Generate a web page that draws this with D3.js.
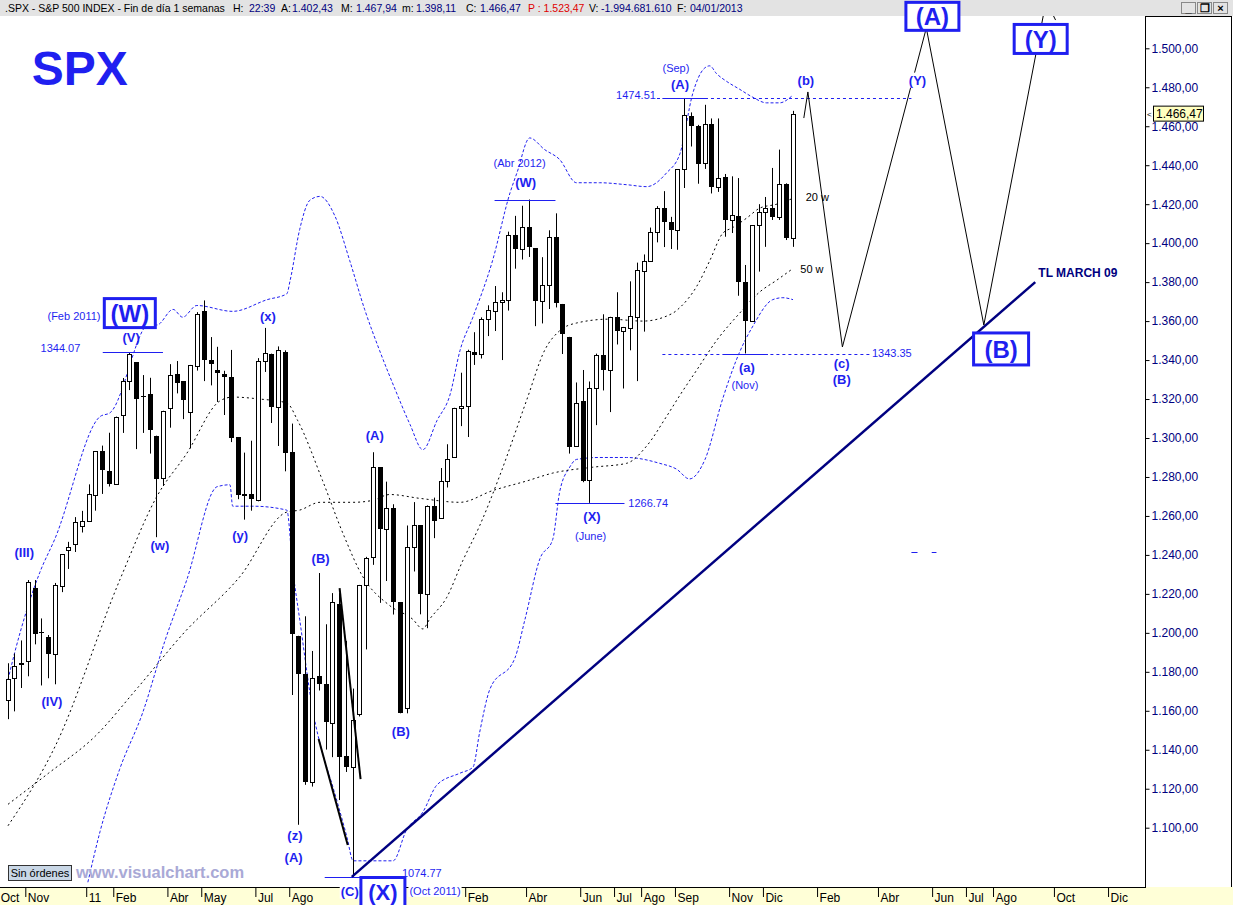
<!DOCTYPE html>
<html><head><meta charset="utf-8">
<script src="https://cdn.jsdelivr.net/npm/d3@7"></script>
<style>
body{margin:0;background:#fff;}
svg{display:block;font-family:"Liberation Sans",Arial,sans-serif;}
</style>
</head><body>
<svg id="c" width="1233" height="905"></svg>
<script>
// ---------- DATA (weekly S&P 500 candles, week index 0 = week of 11 Oct 2010) ----------
const weekStart = ["2010-10-11","2010-10-18","2010-10-25","2010-11-01","2010-11-08","2010-11-15","2010-11-22","2010-11-29","2010-12-06","2010-12-13","2010-12-20","2010-12-27",
"2011-01-03","2011-01-10","2011-01-17","2011-01-24","2011-01-31","2011-02-07","2011-02-14","2011-02-22","2011-02-28","2011-03-07","2011-03-14","2011-03-21","2011-03-28","2011-04-04","2011-04-11","2011-04-18","2011-04-25","2011-05-02","2011-05-09","2011-05-16","2011-05-23","2011-05-31","2011-06-06","2011-06-13","2011-06-20","2011-06-27","2011-07-05","2011-07-11","2011-07-18","2011-07-25","2011-08-01","2011-08-08","2011-08-15","2011-08-22","2011-08-29","2011-09-05","2011-09-12","2011-09-19","2011-09-26","2011-10-03","2011-10-10","2011-10-17","2011-10-24","2011-10-31","2011-11-07","2011-11-14","2011-11-21","2011-11-28","2011-12-05","2011-12-12","2011-12-19","2011-12-27",
"2012-01-03","2012-01-09","2012-01-17","2012-01-23","2012-01-30","2012-02-06","2012-02-13","2012-02-21","2012-02-27","2012-03-05","2012-03-12","2012-03-19","2012-03-26","2012-04-02","2012-04-09","2012-04-16","2012-04-23","2012-04-30","2012-05-07","2012-05-14","2012-05-21","2012-05-29","2012-06-04","2012-06-11","2012-06-18","2012-06-25","2012-07-02","2012-07-09","2012-07-16","2012-07-23","2012-07-30","2012-08-06","2012-08-13","2012-08-20","2012-08-27","2012-09-04","2012-09-10","2012-09-17","2012-09-24","2012-10-01","2012-10-08","2012-10-15","2012-10-22","2012-10-29","2012-11-05","2012-11-12","2012-11-19","2012-11-26","2012-12-03","2012-12-10","2012-12-17","2012-12-24","2012-12-31"];

const open = [1165.3,1176.8,1184.7,1185.7,1223.2,1200.4,1198.1,1189.4,1223.9,1242.5,1245.8,1254.7,
1257.6,1271.0,1293.2,1283.3,1276.5,1311.9,1329.2,1338.9,1321.6,1322.7,1301.2,1279.3,1315.5,1332.7,1329.0,1313.4,1337.1,1365.2,1340.2,1334.8,1333.1,1331.1,1300.3,1271.3,1271.5,1268.4,1339.6,1343.3,1315.9,1344.3,1292.6,1198.5,1178.9,1123.5,1177.9,1173.9,1153.5,1214.9,1136.9,1131.2,1158.2,1224.5,1238.7,1285.0,1253.2,1263.9,1215.6,1161.4,1244.3,1255.1,1219.7,1265.0,
1258.9,1277.8,1290.0,1315.3,1316.2,1344.3,1343.0,1361.2,1365.2,1369.6,1370.8,1404.2,1397.1,1408.5,1397.5,1370.3,1378.5,1403.3,1368.8,1351.9,1295.7,1318.9,1278.3,1325.7,1342.4,1335.0,1362.3,1354.7,1356.5,1362.3,1385.8,1391.0,1405.9,1418.1,1411.1,1406.5,1438.0,1465.4,1460.3,1440.9,1460.9,1428.8,1433.7,1412.0,1414.0,1379.9,1359.9,1409.2,1416.2,1418.1,1413.5,1430.2,1402.4];
const high = [1184.4,1189.4,1196.1,1227.1,1227.1,1207.4,1198.9,1225.6,1240.4,1246.7,1259.4,1262.6,
1276.2,1293.2,1296.1,1302.7,1311.0,1330.8,1344.1,1338.9,1332.3,1330.9,1301.2,1314.0,1337.9,1339.5,1329.0,1337.5,1364.6,1370.6,1351.8,1346.8,1334.5,1345.2,1300.3,1292.5,1298.6,1341.0,1356.5,1343.3,1347.0,1345.0,1307.4,1198.5,1208.5,1190.7,1230.7,1204.4,1220.4,1220.4,1195.9,1171.4,1224.6,1239.0,1292.7,1285.0,1277.6,1266.0,1215.6,1255.1,1267.1,1255.2,1265.4,1269.4,
1284.6,1296.8,1315.5,1333.5,1345.3,1354.3,1361.9,1368.1,1378.0,1374.8,1405.9,1414.0,1419.2,1422.4,1397.5,1392.8,1406.6,1415.3,1368.8,1351.9,1328.5,1334.9,1329.0,1343.3,1363.5,1362.2,1374.8,1357.0,1380.4,1390.0,1394.2,1408.0,1419.0,1426.7,1413.5,1438.0,1474.5,1467.1,1460.7,1471.0,1464.0,1464.0,1435.5,1434.3,1433.4,1388.8,1409.2,1420.0,1423.7,1438.6,1448.0,1430.7,1467.9];
const low = [1155.7,1159.7,1171.7,1177.7,1194.1,1173.0,1176.7,1173.6,1220.9,1232.8,1241.5,1251.5,
1257.6,1262.7,1271.3,1275.1,1276.5,1302.6,1324.6,1294.3,1302.6,1292.0,1249.1,1275.4,1305.3,1322.9,1309.7,1294.7,1334.6,1329.2,1327.0,1318.5,1311.8,1297.9,1268.6,1258.1,1262.7,1267.5,1333.9,1307.7,1295.9,1282.9,1168.1,1101.5,1122.0,1121.1,1170.4,1140.1,1136.2,1114.2,1128.6,1074.8,1157.1,1191.5,1234.9,1215.4,1226.6,1209.4,1158.7,1158.7,1231.5,1209.5,1202.4,1248.6,
1258.9,1274.6,1290.0,1306.1,1300.5,1337.5,1340.8,1352.3,1354.9,1340.0,1365.4,1386.9,1391.6,1392.9,1357.4,1358.8,1366.2,1367.0,1343.1,1292.0,1295.7,1277.3,1266.7,1306.6,1324.4,1313.3,1348.0,1325.4,1345.0,1329.2,1354.6,1390.4,1400.4,1398.0,1397.0,1396.6,1428.3,1449.6,1430.5,1438.1,1425.5,1426.3,1403.3,1405.2,1373.0,1343.4,1359.9,1385.4,1398.1,1411.9,1411.9,1401.6,1398.1];
const close = [1176.2,1183.1,1183.3,1225.9,1199.2,1199.7,1189.4,1224.7,1240.4,1243.9,1256.8,1257.6,
1271.5,1293.2,1283.4,1276.3,1310.9,1329.2,1343.0,1319.9,1321.2,1304.3,1279.2,1313.8,1332.4,1328.2,1319.7,1337.4,1363.6,1340.2,1337.8,1333.3,1331.1,1300.2,1271.0,1271.5,1268.5,1339.7,1343.8,1316.1,1345.0,1292.3,1199.4,1178.8,1123.5,1176.8,1174.0,1154.2,1216.0,1136.4,1131.4,1155.5,1224.6,1238.3,1285.1,1253.2,1263.9,1215.7,1158.7,1244.3,1255.2,1219.7,1265.3,1257.6,
1277.8,1289.1,1315.4,1316.3,1344.9,1342.6,1361.2,1365.7,1369.6,1370.9,1404.2,1397.1,1408.5,1398.1,1370.3,1378.5,1403.4,1369.1,1353.4,1295.2,1317.8,1278.0,1325.7,1342.8,1335.0,1362.2,1354.7,1356.8,1362.7,1386.0,1391.0,1405.9,1418.2,1411.1,1406.6,1437.9,1465.8,1460.2,1440.7,1460.9,1428.6,1433.2,1411.9,1414.2,1379.9,1359.9,1409.2,1416.2,1418.1,1413.6,1430.2,1402.4,1466.5];

// moving averages / bands: [week index, price]
const ma20 = [[0,1101],[7,1142],[16.5,1227],[22,1270],[26.4,1292],[31.3,1319],[33.2,1321],[37.2,1320],[41.2,1318],[42.8,1309],[46.5,1278],[49.5,1251],[52.4,1229],[56.4,1214],[59.8,1207],[61.3,1202],[62.3,1207],[64.8,1218],[67.2,1237],[69.7,1255],[72.7,1281],[76.7,1320],[79.3,1345],[81.5,1355],[84,1359],[88.9,1361],[93.8,1360],[98.2,1364],[99.3,1367],[101.8,1378],[103.7,1391],[105.6,1405],[107.1,1408],[109.2,1413],[111.1,1418],[113.6,1420],[116,1423]];
const ma50 = [[0,1112],[6,1128],[12.9,1147],[19.2,1172],[26,1200],[34.3,1229],[41.2,1262],[43.1,1263],[46.1,1267],[51,1267],[53.9,1268],[56.4,1271],[60.9,1269],[66.8,1267],[71.6,1273],[76.7,1278],[80.5,1282],[86.4,1285],[91.4,1287],[94.4,1296],[97.3,1311],[99.3,1322],[101.8,1335],[104.7,1350],[108.1,1364],[111.1,1375],[113.6,1381],[116,1387]];
const bandUp = [[0,1176],[1,1190],[2.8,1212],[4.7,1231],[6.9,1248],[13.6,1311],[15.1,1313],[21,1359],[22,1358],[24.4,1366],[25.8,1362],[27.9,1368],[33.2,1365],[38.3,1371],[41.2,1374],[41.7,1381],[43.1,1407],[44.6,1422],[46.1,1424],[48.3,1414],[50.5,1391],[52.7,1366],[54.9,1345],[57.2,1325],[59.4,1307],[61.3,1294],[63.4,1309],[65.3,1322],[66.8,1345],[68.7,1362],[71.6,1391],[74.2,1426],[75.2,1436],[77.1,1454],[79.3,1448],[81.5,1443],[84,1431],[87.4,1431],[91.4,1430],[94.4,1429],[97.3,1436],[99.3,1446],[101.2,1477],[102.7,1489],[103.7,1491],[104.7,1487],[106.2,1483],[108.1,1479],[110,1475],[112.1,1472],[114,1472],[116,1476]];
const bandLow = [[11.8,1072],[13.6,1098],[16.5,1130],[19.9,1159],[23.2,1196],[26.4,1227],[30.9,1275],[32.8,1276],[33.2,1265],[36.2,1265],[41.2,1263],[42.1,1232],[43.1,1207],[45.1,1159],[46.5,1138],[48,1121],[50.1,1095],[51,1083],[56.9,1083],[58.9,1099],[61.3,1108],[63.4,1122],[66.8,1128],[68.7,1131],[69.7,1149],[71.2,1171],[74.9,1187],[76.4,1207],[78.6,1238],[80.5,1248],[81.5,1272],[83,1285],[84,1289],[87.4,1290],[91.4,1290],[96.3,1287],[98.8,1284],[100.7,1279],[103,1289],[105.6,1320],[108.1,1344],[110,1357],[113,1371],[114.5,1372],[116,1371]];

const priceTicks = d3.range(1100, 1501, 20);
const monthTickWeeks  = [-1,3,12,16,24,29,37,42,68,77,85,90,94,99,107,112,120,129,137,142,146,155,163];
const monthTickLabels = ["Oct","Nov","11","Feb","Abr","May","Jul","Ago","Feb","Abr","Jun","Jul","Ago","Sep","Nov","Dic","Feb","Abr","Jun","Jul","Ago","Oct","Dic"];

const lastPrice = 1466.47;
const trendLine = [[50.8,1074.77],[151.8,1380]];
const projection = [[117.6,1464.2],[118.2,1477.6],[123.3,1346.7],[135.7,1510.4],[144.2,1358],[153.4,1524.3]];
const arrowWings = [[[151.7,1520.7],[153.4,1524.3]],[[153.4,1524.3],[154.8,1514.5]]];
const drawnLines = [[[45.9,1145.5],[50.2,1091.1]],[[49.0,1222.9],[52.1,1124.9]]];

// ---------- LAYOUT ----------
const W = 1233, H = 905, plotR = 1145, plotT = 16, plotB = 887;
const svg = d3.select("#c");
const x = d3.scaleLinear().domain([0, 116]).range([8, 793]);
const y = d3.scaleLinear().domain([1100, 1500]).range([827.7, 48.3]);
const BLUE = "#1f1ff0", NAVY = "#000080";
const es = d3.formatLocale({decimal: ",", thousands: ".", grouping: [3], currency: ["", ""]});
const fmt = es.format(",.2f");

svg.append("rect").attr("width", W).attr("height", H).attr("fill", "#fff");
svg.append("defs").append("clipPath").attr("id", "plot").append("rect")
  .attr("x", 0).attr("y", plotT).attr("width", plotR).attr("height", plotB - plotT);

const plot = svg.append("g").attr("clip-path", "url(#plot)");
const line = d3.line().x(d => x(d[0])).y(d => y(d[1])).curve(d3.curveMonotoneX);

[[bandUp, BLUE, "3,2"], [bandLow, BLUE, "3,2"], [ma50, "#000", "2,3"], [ma20, "#000", "2,3"]].forEach(([d, c, da]) => {
  plot.append("path").attr("d", line(d)).attr("fill", "none").attr("stroke", c)
    .attr("stroke-width", 1).attr("stroke-dasharray", da);
});

const cg = plot.append("g");
close.forEach((c, i) => {
  const cx = x(i), L = Math.round(cx - 2.5), wx = L + 2.5;
  const o = open[i], up = c >= o;
  cg.append("line").attr("x1", wx).attr("x2", wx).attr("y1", y(high[i])).attr("y2", y(low[i]))
    .attr("stroke", "#000").attr("stroke-width", 1);
  const yt = Math.round(y(Math.max(o, c))), yb = Math.round(y(Math.min(o, c)));
  if (up) {
    cg.append("rect").attr("x", L + 0.5).attr("y", yt + 0.5).attr("width", 4).attr("height", Math.max(1, yb - yt))
      .attr("fill", "#fff").attr("stroke", "#000").attr("stroke-width", 1);
  } else {
    cg.append("rect").attr("x", L).attr("y", yt).attr("width", 5).attr("height", Math.max(1, yb - yt))
      .attr("fill", "#000");
  }
});

drawnLines.forEach(s => plot.append("path").attr("d", d3.line().x(d => x(d[0])).y(d => y(d[1]))(s))
  .attr("stroke", "#000").attr("stroke-width", 2).attr("fill", "none"));

const ann = svg.append("g");
function hline(p, i0, i1, opts = {}) {
  ann.append("line").attr("x1", x(i0)).attr("x2", x(i1)).attr("y1", Math.round(y(p)) + 0.5).attr("y2", Math.round(y(p)) + 0.5)
    .attr("stroke", opts.color || BLUE).attr("stroke-width", opts.w || 1).attr("stroke-dasharray", opts.dash || null);
}
hline(1474.51, 95.9, 133.5, {dash: "3,3"});
hline(1474.51, 96.7, 103);
hline(1343.35, 96.7, 127.3, {dash: "3,3"});
hline(1343.35, 105.9, 112.3);
hline(1344.07, 14.0, 22.9);
hline(1074.77, 46.8, 56.1);
hline(1266.74, 80.9, 91.1);
hline(1422.38, 71.9, 80.9);
hline(1241.5, 133.5, 134.4);
hline(1241.5, 136.5, 137.2);

ann.append("path").attr("d", d3.line().x(d => x(d[0])).y(d => y(d[1]))(trendLine))
  .attr("stroke", NAVY).attr("stroke-width", 2.5).attr("fill", "none");

const pl = d3.line().x(d => x(d[0])).y(d => y(d[1]));
ann.append("path").attr("d", pl(projection)).attr("stroke", "#000").attr("stroke-width", 1).attr("fill", "none");
arrowWings.forEach(s => ann.append("path").attr("d", pl(s)).attr("stroke", "#000").attr("stroke-width", 1).attr("fill", "none"));

// ---------- frame / axes ----------
svg.append("rect").attr("x", 0).attr("y", plotB).attr("width", W).attr("height", H - plotB).attr("fill", "#ffffd7");
svg.append("line").attr("x1", 0).attr("x2", plotR).attr("y1", plotB + 0.5).attr("y2", plotB + 0.5).attr("stroke", "#000");
svg.append("line").attr("x1", plotR + 0.5).attr("x2", plotR + 0.5).attr("y1", plotT).attr("y2", plotB + 1).attr("stroke", "#000");
svg.append("line").attr("x1", 1231.5).attr("x2", 1231.5).attr("y1", plotT).attr("y2", plotB).attr("stroke", "#000");
svg.append("line").attr("x1", plotR).attr("x2", 1232).attr("y1", plotT + 0.5).attr("y2", plotT + 0.5).attr("stroke", "#000");

const ya = svg.append("g").attr("transform", `translate(${plotR + 0.5},0)`)
  .call(d3.axisRight(y).tickValues(priceTicks).tickSize(4).tickPadding(2).tickFormat(fmt));
ya.select(".domain").remove();
ya.selectAll("line").attr("stroke", "#000");
ya.selectAll("text").attr("fill", NAVY).attr("font-size", 12).attr("font-family", "Liberation Sans, Arial, sans-serif");

const xa = svg.append("g").attr("transform", `translate(0,${plotB + 1})`)
  .call(d3.axisBottom(x).tickValues(monthTickWeeks).tickSize(9).tickFormat((d, i) => monthTickLabels[i]));
xa.select(".domain").remove();
xa.selectAll("line").attr("stroke", "#000").attr("transform", "translate(-3,0)");
xa.selectAll("text").attr("fill", "#000").attr("font-size", 12).attr("text-anchor", "start")
  .attr("font-family", "Liberation Sans, Arial, sans-serif").attr("x", -1).attr("y", 5).attr("dy", "0.71em");

svg.append("rect").attr("x", 0).attr("y", 0).attr("width", W).attr("height", plotT).attr("fill", "#e3e3e3");
const hdr = [
  [".SPX - S&P 500 INDEX - Fin de día 1 semanas", 5, "#000"],
  ["H:", 233, "#000"], ["22:39", 249, NAVY],
  ["A:", 281, "#000"], ["1.402,43", 292, NAVY],
  ["M:", 341, "#000"], ["1.467,94", 356, NAVY],
  ["m:", 402, "#000"], ["1.398,11", 416, NAVY],
  ["C:", 466, "#000"], ["1.466,47", 480, NAVY],
  ["P : 1.523,47", 528, "#e00000"],
  ["V:", 589, "#000"], ["-1.994.681.610", 601, NAVY],
  ["F:", 677, "#000"], ["04/01/2013", 690, NAVY]
];
hdr.forEach(([t, px, c]) => svg.append("text").attr("x", px).attr("y", 12).attr("font-size", 10.5).attr("fill", c).text(t));
[["_", 1181], ["❐", 1197], ["×", 1213]].forEach(([g, bx]) => {
  svg.append("rect").attr("x", bx + 0.5).attr("y", 2.5).attr("width", 14).attr("height", 11).attr("fill", "#e3e3e3").attr("stroke", "#888");
  svg.append("text").attr("x", bx + 7.5).attr("y", 12).attr("text-anchor", "middle").attr("font-size", 11).attr("font-weight", "bold").text(g);
});

const ly = y(lastPrice);
svg.append("rect").attr("x", 1153.5).attr("y", ly - 7.5).attr("width", 50).attr("height", 15).attr("fill", "#ffffc0").attr("stroke", "#000");
svg.append("text").attr("x", 1156).attr("y", ly + 4.5).attr("font-size", 12).attr("fill", "#000").text(fmt(lastPrice));
svg.append("text").attr("x", 1147).attr("y", ly + 3).attr("font-size", 8).attr("fill", "#000").text("<");

// ---------- annotations ----------
const annTop = svg.append("g");
function txt(t, i, p, o = {}) {
  const el = annTop.append("text").attr("x", x(i)).attr("y", y(p)).attr("dy", "0.35em")
    .attr("text-anchor", o.anchor || "middle").attr("font-size", o.size || 11)
    .attr("font-weight", o.bold ? "bold" : "normal").attr("fill", o.color || BLUE).text(t);
  if (o.bg) {
    const b = el.node().getBBox();
    annTop.insert("rect", () => el.node()).attr("x", b.x - 1).attr("y", b.y).attr("width", b.width + 2).attr("height", b.height).attr("fill", "#fff");
  }
  return el;
}
function box(t, i, p, w, h, fs) {
  const cx = x(i), cy = y(p);
  annTop.append("rect").attr("x", cx - w / 2).attr("y", cy - h / 2).attr("width", w).attr("height", h)
    .attr("fill", "#fff").attr("stroke", BLUE).attr("stroke-width", 3);
  annTop.append("text").attr("x", cx).attr("y", cy).attr("dy", "0.36em").attr("text-anchor", "middle")
    .attr("font-size", fs).attr("font-weight", "bold").attr("fill", BLUE).text(t);
}

txt("SPX", 10.6, 1490, {size: 48, bold: true});
box("(W)", 18.0, 1364.1, 51, 29, 24);
txt("(Feb 2011)", 9.75, 1362.6);
txt("(V)", 18.2, 1351.5, {bold: true, size: 13});
txt("1344.07", 7.75, 1346.2);
txt("(III)", 2.4, 1241.5, {bold: true, size: 13});
txt("(IV)", 6.5, 1165, {bold: true, size: 13});
txt("(w)", 22.45, 1244.6, {bold: true, size: 13});
txt("(x)", 38.4, 1362.6, {bold: true, size: 13});
txt("(y)", 34.3, 1250.2, {bold: true, size: 13});
txt("(z)", 42.4, 1096.2, {bold: true, size: 13});
txt("(A)", 42.2, 1084.9, {bold: true, size: 13});
txt("(B)", 46.2, 1238.4, {bold: true, size: 13});
txt("(A)", 54.2, 1301.1, {bold: true, size: 13});
txt("(B)", 58.05, 1149.6, {bold: true, size: 13});
txt("1074.77", 61.15, 1076.8);
txt("(C)", 50.5, 1067.5, {bold: true, size: 13, bg: true});
box("(X)", 55.4, 1067.0, 44, 29, 22);
txt("(Oct 2011)", 63.1, 1067.5, {bg: true});
txt("(Abr 2012)", 75.6, 1441.1);
txt("(W)", 76.5, 1430.9, {bold: true, size: 13});
txt("(X)", 86.3, 1259.5, {bold: true, size: 13});
txt("(June)", 86.1, 1249.7);
txt("1266.74", 94.6, 1266.6);
txt("(Sep)", 98.7, 1489.9);
txt("(A)", 99.3, 1481.7, {bold: true, size: 13});
txt("1474.51", 92.8, 1476);
txt("(b)", 117.9, 1483.7, {bold: true, size: 13});
txt("20 w", 119.6, 1423.7, {color: "#000"});
txt("50 w", 118.8, 1386.7, {color: "#000"});
txt("(a)", 109.2, 1336.4, {bold: true, size: 13});
txt("(Nov)", 108.9, 1327.2);
txt("1343.35", 130.6, 1343.6);
txt("(c)", 123.2, 1338.5, {bold: true, size: 13});
txt("(B)", 123.2, 1329.8, {bold: true, size: 13});
txt("(Y)", 134.4, 1483.7, {bold: true, size: 13, bg: true});
box("(A)", 136.6, 1516.4, 53, 28, 24);
box("(Y)", 152.6, 1504.8, 53, 29, 24);
box("(B)", 146.75, 1345.7, 55, 32, 24);
txt("TL MARCH 09", 158.1, 1384.7, {bold: true, size: 12, color: NAVY});

svg.append("rect").attr("x", 8.5).attr("y", 865.5).attr("width", 63).attr("height", 15).attr("fill", "#c9d7e6").attr("stroke", "#333");
svg.append("text").attr("x", 40).attr("y", 877).attr("text-anchor", "middle").attr("font-size", 11).attr("fill", "#000").text("Sin órdenes");
svg.append("text").attr("x", 76).attr("y", 878).attr("font-size", 16.5).attr("font-weight", "bold").attr("fill", "#a9a9d6").text("www.visualchart.com");
</script>
</body></html>
